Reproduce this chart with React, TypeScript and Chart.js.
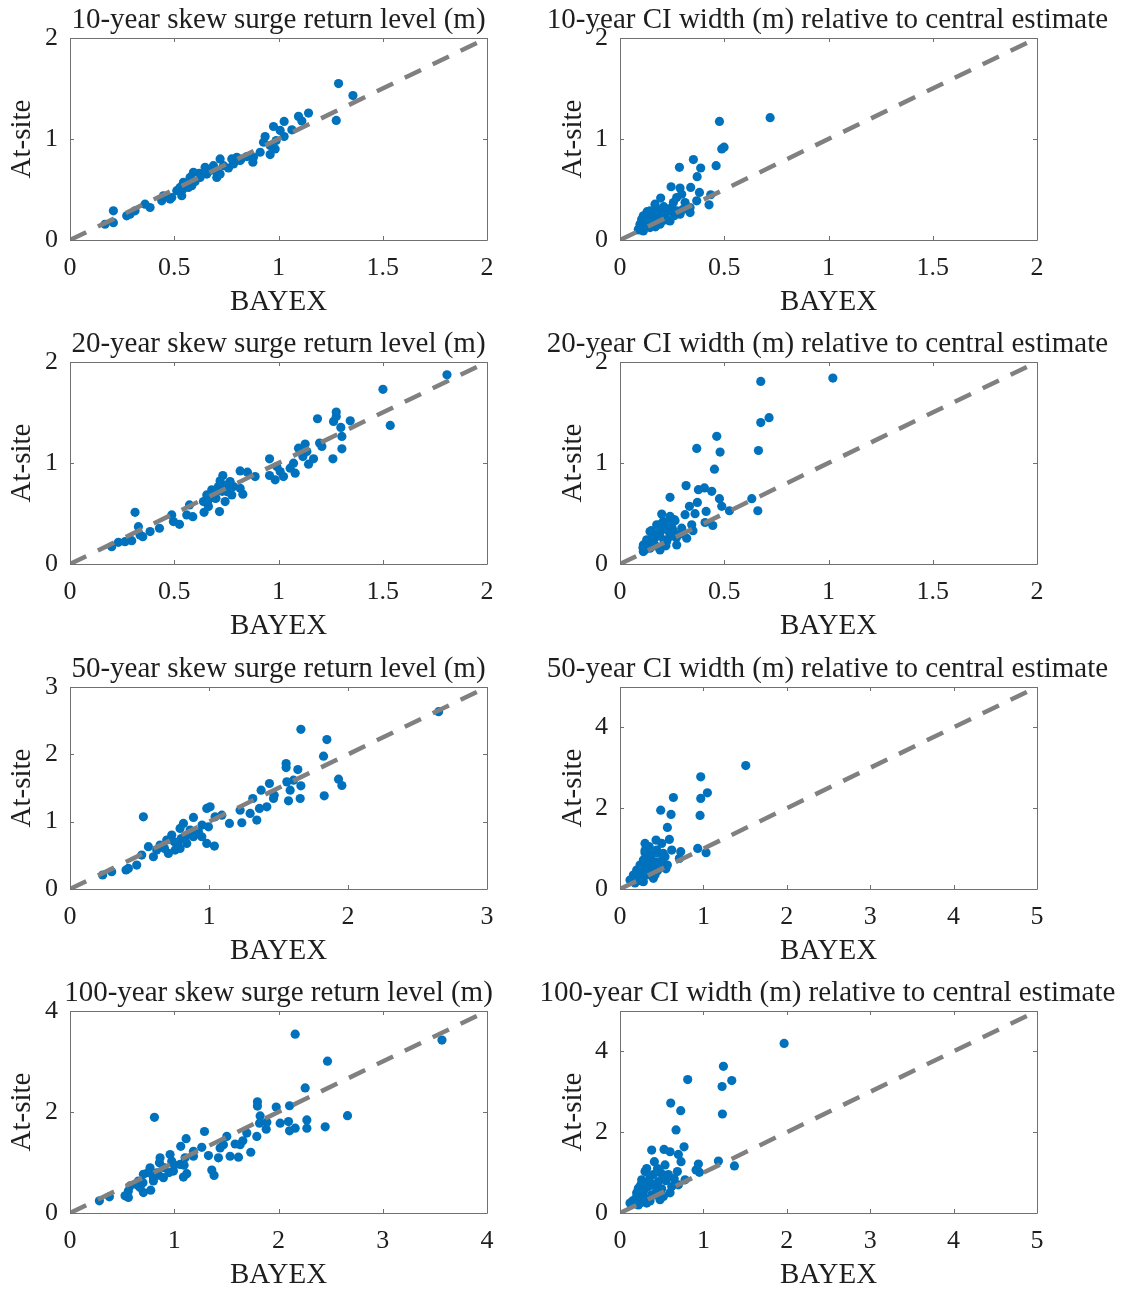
import React, { useEffect, useRef } from "react";
import { Chart, registerables } from "chart.js";

Chart.register(...registerables);

const BLUE = "#0072BD";
const DIAG = "#808080";
const AXIS = "#707070";
const TEXT = "#1e1e1e";
const FONT = "'Liberation Serif', 'Times New Roman', serif";

// ---- titles ----
const titles: string[] = [
  "10-year skew surge return level (m)",
  "10-year CI width (m) relative to central estimate",
  "20-year skew surge return level (m)",
  "20-year CI width (m) relative to central estimate",
  "50-year skew surge return level (m)",
  "50-year CI width (m) relative to central estimate",
  "100-year skew surge return level (m)",
  "100-year CI width (m) relative to central estimate",
];
const xLabel = "BAYEX";
const yLabel = "At-site";

// ---- axis maxima & ticks ----
const axisMax: number[] = [2, 2, 2, 2, 3, 5, 4, 5];
const xTicks: number[][] = [
  [0, 0.5, 1, 1.5, 2],
  [0, 0.5, 1, 1.5, 2],
  [0, 0.5, 1, 1.5, 2],
  [0, 0.5, 1, 1.5, 2],
  [0, 1, 2, 3],
  [0, 1, 2, 3, 4, 5],
  [0, 1, 2, 3, 4],
  [0, 1, 2, 3, 4, 5],
];
const yTicks: number[][] = [
  [0, 1, 2],
  [0, 1, 2],
  [0, 1, 2],
  [0, 1, 2],
  [0, 1, 2, 3],
  [0, 2, 4],
  [0, 2, 4],
  [0, 2, 4],
];

// ---- series values: [BAYEX, At-site] ----
const rl10: [number, number][] = [
  [1.288, 1.549], [1.357, 1.43], [1.277, 1.184], [1.144, 1.257], [1.096, 1.224], [1.112, 1.178],
  [1.027, 1.174], [0.976, 1.124], [1.064, 1.091], [1.027, 1.025], [0.936, 1.025], [0.989, 0.985],
  [0.96, 0.935], [0.984, 0.902], [0.96, 0.846], [0.912, 0.869], [0.877, 0.77], [0.848, 0.826],
  [0.8, 0.819], [0.784, 0.753], [0.76, 0.713], [0.72, 0.803], [0.72, 0.653], [0.688, 0.736],
  [0.648, 0.72], [0.624, 0.62], [0.592, 0.67], [0.576, 0.62], [0.584, 0.537], [0.544, 0.571],
  [0.528, 0.521], [0.536, 0.438], [0.488, 0.421], [0.448, 0.438], [0.44, 0.388], [0.384, 0.322],
  [0.36, 0.355], [0.288, 0.255], [0.272, 0.239], [0.208, 0.289], [0.208, 0.172], [0.168, 0.156],
  [0.672, 0.687], [0.704, 0.62], [0.816, 0.786], [0.512, 0.488], [0.568, 0.521], [0.656, 0.653],
  [0.776, 0.803], [0.88, 0.819], [1.008, 1.085], [0.928, 0.969], [0.48, 0.405], [0.312, 0.289],
  [0.736, 0.736], [0.62, 0.66], [0.7, 0.68], [0.6, 0.58], [0.82, 0.8], [0.54, 0.5],
];
const ci10: [number, number][] = [
  [0.72, 1.211], [0.477, 1.174], [0.499, 0.919], [0.488, 0.902], [0.352, 0.796], [0.285, 0.72],
  [0.387, 0.713], [0.461, 0.736], [0.37, 0.627], [0.245, 0.527], [0.288, 0.514], [0.339, 0.521],
  [0.381, 0.471], [0.435, 0.448], [0.427, 0.348], [0.195, 0.415], [0.168, 0.355], [0.256, 0.371],
  [0.312, 0.371], [0.336, 0.322], [0.144, 0.289], [0.112, 0.239], [0.184, 0.272], [0.232, 0.289],
  [0.272, 0.289], [0.288, 0.255], [0.336, 0.272], [0.2, 0.189], [0.24, 0.189], [0.096, 0.156],
  [0.088, 0.106], [0.128, 0.172], [0.144, 0.123], [0.112, 0.09], [0.192, 0.156], [0.16, 0.222],
  [0.216, 0.239], [0.368, 0.388], [0.296, 0.454], [0.104, 0.206], [0.136, 0.239], [0.248, 0.322],
  [0.272, 0.421], [0.15, 0.2], [0.18, 0.3], [0.12, 0.14],
  [0.1, 0.12], [0.12, 0.18], [0.14, 0.2], [0.16, 0.17], [0.18, 0.24], [0.2, 0.26], [0.22, 0.2],
  [0.13, 0.28], [0.1, 0.16], [0.17, 0.13], [0.26, 0.24], [0.3, 0.3], [0.21, 0.33], [0.09, 0.1],
  [0.14, 0.15],
];
const rl20: [number, number][] = [
  [1.808, 1.874], [1.501, 1.729], [1.536, 1.372], [1.277, 1.504], [1.277, 1.461], [1.187, 1.438],
  [1.264, 1.412], [1.344, 1.418], [1.299, 1.352], [1.304, 1.263], [1.304, 1.14], [1.261, 1.041],
  [1.197, 1.197], [1.208, 1.164], [1.128, 1.187], [1.096, 1.147], [1.136, 1.114], [1.117, 1.064],
  [1.168, 1.041], [1.144, 0.988], [1.072, 0.998], [1.056, 0.949], [1.08, 0.899], [0.957, 1.041],
  [0.992, 0.965], [1.008, 0.916], [0.984, 0.833], [0.957, 0.876], [1.024, 0.866], [0.888, 0.866],
  [0.851, 0.909], [0.816, 0.922], [0.829, 0.691], [0.776, 0.684], [0.784, 0.767], [0.733, 0.876],
  [0.72, 0.823], [0.712, 0.767], [0.704, 0.717], [0.68, 0.734], [0.672, 0.668], [0.656, 0.684],
  [0.64, 0.618], [0.717, 0.519], [0.643, 0.512], [0.664, 0.569], [0.573, 0.585], [0.56, 0.486],
  [0.589, 0.469], [0.488, 0.486], [0.496, 0.42], [0.525, 0.393], [0.429, 0.354], [0.312, 0.512],
  [0.328, 0.37], [0.384, 0.321], [0.349, 0.271], [0.336, 0.288], [0.296, 0.231], [0.264, 0.221],
  [0.232, 0.215], [0.2, 0.172], [0.752, 0.717], [0.768, 0.816], [0.816, 0.75], [0.696, 0.651],
  [0.744, 0.618], [0.68, 0.7], [0.7, 0.65], [0.73, 0.72], [0.66, 0.62], [0.75, 0.78],
];
const ci20: [number, number][] = [
  [1.021, 1.841], [0.675, 1.808], [0.715, 1.449], [0.675, 1.4], [0.664, 1.124], [0.661, 0.527],
  [0.632, 0.647], [0.464, 1.264], [0.48, 1.108], [0.368, 1.144], [0.453, 0.939], [0.317, 0.776],
  [0.376, 0.736], [0.405, 0.753], [0.44, 0.72], [0.24, 0.66], [0.477, 0.647], [0.371, 0.61],
  [0.333, 0.571], [0.488, 0.571], [0.525, 0.527], [0.413, 0.521], [0.36, 0.498], [0.312, 0.488],
  [0.2, 0.494], [0.24, 0.471], [0.264, 0.428], [0.445, 0.381], [0.408, 0.411], [0.344, 0.388],
  [0.296, 0.355], [0.176, 0.388], [0.144, 0.322], [0.208, 0.355], [0.256, 0.322], [0.32, 0.255],
  [0.272, 0.189], [0.224, 0.222], [0.192, 0.139], [0.112, 0.189], [0.112, 0.123], [0.144, 0.156],
  [0.176, 0.272], [0.16, 0.222], [0.24, 0.272], [0.28, 0.289], [0.128, 0.239], [0.208, 0.421],
  [0.23, 0.4], [0.18, 0.3], [0.13, 0.17],
  [0.12, 0.14], [0.13, 0.2], [0.15, 0.25], [0.17, 0.18], [0.19, 0.3], [0.21, 0.24], [0.23, 0.33],
  [0.25, 0.36], [0.27, 0.26], [0.15, 0.33], [0.11, 0.16], [0.2, 0.4], [0.26, 0.44], [0.3, 0.3],
  [0.22, 0.18], [0.35, 0.33],
];
const rl50: [number, number][] = [
  [2.652, 2.634], [1.661, 2.372], [1.848, 2.219], [1.824, 1.972], [1.555, 1.863], [1.555, 1.804],
  [1.639, 1.774], [1.932, 1.631], [1.956, 1.537], [1.829, 1.384], [1.56, 1.591], [1.608, 1.616],
  [1.661, 1.532], [1.584, 1.468], [1.572, 1.31], [1.656, 1.344], [1.435, 1.567], [1.375, 1.468],
  [1.469, 1.394], [1.464, 1.344], [1.315, 1.344], [1.416, 1.221], [1.363, 1.196], [1.296, 1.122],
  [1.344, 1.023], [1.236, 0.984], [1.147, 0.974], [1.224, 1.171], [1.092, 1.097], [1.044, 1.072],
  [1.008, 1.221], [0.984, 1.196], [0.888, 1.063], [0.816, 0.974], [0.792, 0.9], [0.996, 0.924],
  [0.924, 0.85], [0.984, 0.677], [1.039, 0.638], [0.888, 0.776], [0.84, 0.677], [0.792, 0.603],
  [0.732, 0.801], [0.696, 0.726], [0.648, 0.652], [0.708, 0.529], [0.6, 0.479], [0.564, 0.628],
  [0.528, 1.072], [0.516, 0.504], [0.48, 0.356], [0.42, 0.306], [0.403, 0.282], [0.3, 0.257],
  [0.235, 0.208], [0.773, 0.677], [0.864, 0.875], [0.948, 0.776], [0.756, 0.578], [0.624, 0.578],
  [0.75, 0.7], [0.8, 0.75], [0.85, 0.8], [0.9, 0.82], [0.78, 0.62], [0.68, 0.6], [0.95, 0.95],
];
const ci50: [number, number][] = [
  [1.508, 3.056], [0.968, 2.776], [1.048, 2.381], [0.968, 2.241], [0.64, 2.265], [0.488, 1.952],
  [0.612, 1.845], [0.96, 1.82], [0.568, 1.524], [0.432, 1.211], [0.3, 1.129], [0.592, 1.227],
  [0.5, 1.129], [0.932, 1.005], [1.032, 0.898], [0.728, 0.923], [0.712, 0.758], [0.62, 0.964],
  [0.52, 0.881], [0.44, 0.964], [0.36, 0.799], [0.28, 0.717], [0.24, 0.593], [0.2, 0.47],
  [0.16, 0.346], [0.12, 0.222], [0.4, 0.264], [0.28, 0.181], [0.48, 0.552], [0.568, 0.593],
  [0.34, 0.47], [0.44, 0.675], [0.22, 0.222], [0.32, 0.346], [0.38, 0.552], [0.26, 0.428],
  [0.54, 0.799], [0.18, 0.264], [0.3, 0.9], [0.36, 0.62], [0.25, 0.35], [0.45, 0.45],
  [0.15, 0.2], [0.2, 0.3], [0.25, 0.45], [0.3, 0.55], [0.35, 0.4], [0.4, 0.5], [0.22, 0.38],
  [0.28, 0.3], [0.32, 0.7], [0.38, 0.85], [0.45, 0.9], [0.5, 0.7], [0.55, 0.5], [0.18, 0.15],
  [0.26, 0.2], [0.42, 0.35], [0.3, 0.95], [0.35, 1.05],
];
const rl100: [number, number][] = [
  [3.568, 3.425], [2.16, 3.542], [2.47, 3.007], [2.256, 2.477], [2.662, 1.928], [1.798, 2.203],
  [1.798, 2.118], [1.978, 2.098], [2.106, 2.124], [1.824, 1.922], [1.888, 1.797], [1.818, 1.778],
  [2.016, 1.778], [2.096, 1.81], [2.272, 1.843], [2.272, 1.68], [2.448, 1.706], [2.16, 1.68],
  [2.106, 1.627], [1.882, 1.66], [1.792, 1.516], [1.696, 1.582], [1.658, 1.431], [1.632, 1.353],
  [1.734, 1.203], [1.584, 1.366], [1.504, 1.516], [1.472, 1.353], [1.44, 1.288], [1.536, 1.124],
  [1.616, 1.105], [1.424, 1.092], [1.328, 1.137], [1.29, 1.614], [1.114, 1.471], [1.062, 1.32],
  [1.184, 1.222], [1.264, 1.301], [1.36, 0.85], [1.382, 0.745], [0.81, 1.895], [1.104, 1.092],
  [1.094, 0.948], [1.12, 0.778], [1.088, 0.712], [0.96, 1.157], [0.976, 1.026], [0.864, 1.092],
  [0.858, 0.993], [0.768, 0.895], [0.832, 0.797], [0.896, 0.699], [0.992, 0.83], [0.8, 0.634],
  [0.704, 0.765], [0.656, 0.634], [0.576, 0.536], [0.56, 0.438], [0.672, 0.503], [0.704, 0.405],
  [0.774, 0.451], [0.528, 0.34], [0.56, 0.307], [0.378, 0.32], [0.282, 0.242], [1.184, 1.124],
  [1.056, 0.961], [0.7, 0.6], [0.75, 0.8], [0.85, 0.75], [0.9, 0.9], [1.0, 0.95], [0.65, 0.55],
  [0.95, 0.8], [0.8, 0.7],
];
const ci100: [number, number][] = [
  [1.968, 4.197], [1.24, 3.631], [1.34, 3.279], [1.224, 3.131], [1.228, 2.451], [0.812, 3.303],
  [0.608, 2.721], [0.728, 2.533], [0.672, 2.057], [0.38, 1.557], [0.528, 1.574], [0.768, 1.639],
  [0.7, 1.451], [0.6, 1.516], [0.412, 1.27], [0.732, 1.27], [0.94, 1.213], [1.18, 1.287],
  [1.372, 1.164], [0.912, 1.066], [0.952, 1.008], [0.688, 1.025], [0.54, 1.189], [0.52, 0.943],
  [0.3, 1.025], [0.26, 0.82], [0.36, 0.902], [0.46, 0.779], [0.62, 0.656], [0.7, 0.697],
  [0.22, 0.615], [0.28, 0.533], [0.2, 0.41], [0.12, 0.246], [0.24, 0.246], [0.32, 0.246],
  [0.48, 0.328], [0.38, 0.451], [0.44, 0.574], [0.52, 0.41], [0.18, 0.328], [0.78, 0.82],
  [0.58, 0.902], [0.34, 0.656], [0.3, 0.35], [0.4, 0.7], [0.25, 0.5],
  [0.15, 0.3], [0.2, 0.5], [0.25, 0.7], [0.3, 0.6], [0.35, 0.8], [0.4, 0.95], [0.45, 1.1],
  [0.5, 0.6], [0.55, 0.8], [0.6, 0.5], [0.28, 0.4], [0.36, 0.3], [0.22, 0.2], [0.42, 0.45],
  [0.48, 1.0], [0.32, 1.1], [0.58, 0.95], [0.65, 0.85],
];

const series: [number, number][][] = [rl10, ci10, rl20, ci20, rl50, ci50, rl100, ci100];

// ---- layout (page pixels) ----
const plotTops = [38, 362, 687, 1011];
const PLOT_H = 202;
const TITLE_H = 38;
const XAXIS_H = 84;
const colCanvas = [
  { left: 0, width: 557, yAxisW: 70, rightW: 70, yTitlePad: 5 },
  { left: 530, width: 595, yAxisW: 90, rightW: 88, yTitlePad: 26 },
];

const boxPlugin = {
  id: "matlabBox",
  afterDraw(chart: any) {
    const { ctx, chartArea } = chart;
    const { left, right, top, bottom } = chartArea;
    const xs = chart.scales.x;
    const ys = chart.scales.y;
    const tl = 4;
    ctx.save();
    ctx.strokeStyle = AXIS;
    ctx.lineWidth = 1;
    ctx.beginPath();
    ctx.rect(Math.round(left) + 0.5, Math.round(top) + 0.5, Math.round(right - left), Math.round(bottom - top));
    xs.ticks.forEach((t: any) => {
      const px = Math.round(xs.getPixelForValue(t.value)) + 0.5;
      ctx.moveTo(px, bottom);
      ctx.lineTo(px, bottom - tl);
      ctx.moveTo(px, top);
      ctx.lineTo(px, top + tl);
    });
    ys.ticks.forEach((t: any) => {
      const py = Math.round(ys.getPixelForValue(t.value)) + 0.5;
      ctx.moveTo(left, py);
      ctx.lineTo(left + tl, py);
      ctx.moveTo(right, py);
      ctx.lineTo(right - tl, py);
    });
    ctx.stroke();
    ctx.restore();
  },
};

function Panel({ idx }: { idx: number }) {
  const ref = useRef<HTMLCanvasElement>(null);
  const col = idx % 2;
  const row = Math.floor(idx / 2);
  const c = colCanvas[col];
  const top = plotTops[row] - TITLE_H;
  const height = TITLE_H + PLOT_H + XAXIS_H;

  useEffect(() => {
    const m = axisMax[idx];
    const xt = xTicks[idx];
    const yt = yTicks[idx];
    const pts = series[idx].map(([x, y]) => ({ x, y }));
    const chart = new Chart(ref.current as HTMLCanvasElement, {
      type: "scatter",
      data: {
        datasets: [
          {
            type: "line",
            data: [
              { x: 0, y: 0 },
              { x: m, y: m },
            ],
            borderColor: DIAG,
            borderWidth: 4.5,
            borderDash: [18, 13],
            pointRadius: 0,
            fill: false,
            order: 0,
            xAxisID: "x",
            yAxisID: "y",
          } as any,
          {
            type: "scatter",
            data: pts,
            backgroundColor: BLUE,
            borderWidth: 0,
            pointRadius: 4.6,
            order: 1,
            xAxisID: "x",
            yAxisID: "y",
          } as any,
        ],
      },
      options: {
        responsive: false,
        animation: false,
        layout: { padding: 0 },
        plugins: {
          legend: { display: false },
          tooltip: { enabled: false },
          title: {
            display: true,
            text: titles[idx],
            color: TEXT,
            font: { family: FONT, size: 29, weight: "normal", lineHeight: 1.2 },
            padding: { top: 3, bottom: 0.2 },
          },
        },
        scales: {
          x: {
            type: "linear",
            min: 0,
            max: m,
            afterBuildTicks: (s: any) => {
              s.ticks = xt.map((v) => ({ value: v }));
            },
            afterFit: (s: any) => {
              s.height = XAXIS_H;
            },
            grid: { display: false, drawTicks: false },
            border: { display: false },
            ticks: {
              padding: 13,
              color: TEXT,
              font: { family: FONT, size: 26 },
              maxRotation: 0,
              autoSkip: false,
              callback: (v: any) => String(v),
            },
            title: {
              display: true,
              text: xLabel,
              color: TEXT,
              font: { family: FONT, size: 29, lineHeight: 1.2 },
              padding: { top: 0, bottom: 4.6 },
            },
          },
          y: {
            type: "linear",
            position: "left",
            min: 0,
            max: m,
            afterBuildTicks: (s: any) => {
              s.ticks = yt.map((v) => ({ value: v }));
            },
            afterFit: (s: any) => {
              s.width = c.yAxisW;
            },
            grid: { display: false, drawTicks: false },
            border: { display: false },
            ticks: {
              padding: 12,
              color: TEXT,
              font: { family: FONT, size: 26 },
              autoSkip: false,
              callback: (v: any) => String(v),
            },
            title: {
              display: true,
              text: yLabel,
              color: TEXT,
              font: { family: FONT, size: 29, lineHeight: 1.2 },
              padding: { top: c.yTitlePad, bottom: 0 },
            },
          },
          y2: {
            type: "linear",
            position: "right",
            display: true,
            afterFit: (s: any) => {
              s.width = c.rightW;
            },
            grid: { display: false, drawTicks: false },
            border: { display: false },
            ticks: { display: false },
          },
        },
      } as any,
      plugins: [boxPlugin],
    });
    return () => chart.destroy();
  }, []);

  return (
    <canvas
      ref={ref}
      width={c.width}
      height={height}
      style={{ position: "absolute", left: c.left, top, width: c.width, height }}
    />
  );
}

export default function App() {
  return (
    <div style={{ position: "absolute", left: 0, top: 0, width: 1125, height: 1291, background: "#ffffff", overflow: "hidden" }}>
      {titles.map((_, i) => (
        <Panel key={i} idx={i} />
      ))}
    </div>
  );
}
